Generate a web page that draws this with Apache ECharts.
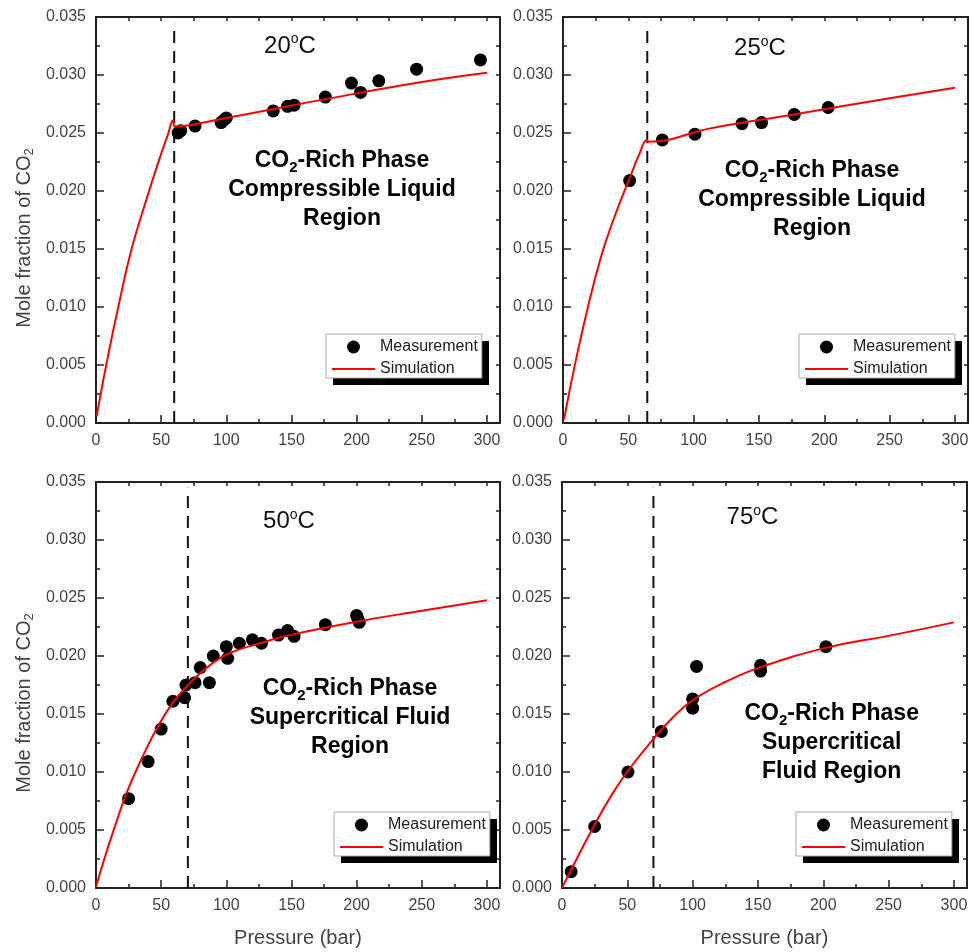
<!DOCTYPE html>
<html>
<head>
<meta charset="utf-8">
<script src="https://cdn.jsdelivr.net/npm/echarts@6/dist/echarts.min.js"></script>
<style>
  html, body { margin: 0; padding: 0; background: #fff; }
  #chart { width: 972px; height: 952px; }
</style>
</head>
<body>
<div id="chart"></div>
<script>
// ---- Data: CO2 mole fraction in the CO2-rich phase vs pressure ----
const temperatures = ['20', '25', '50', '75'];

const meas20 = [[63, 0.0250], [65, 0.0252], [76, 0.0256], [96, 0.0259], [98, 0.0261], [100, 0.0263],
  [136, 0.0269], [147, 0.0273], [152, 0.0274], [176, 0.0281], [196, 0.0293], [203, 0.0285],
  [217, 0.0295], [246, 0.0305], [295, 0.0313]];
const sim20 = [[0.5, 0.0006], [5.6, 0.0037], [10.7, 0.0066], [17.1, 0.0100], [27.3, 0.0150],
  [38.8, 0.0193], [47.6, 0.0224], [55.3, 0.0249], [59.1, 0.0261], [60.5, 0.02555],
  [100, 0.0263], [175, 0.0279], [250, 0.0294], [300, 0.0302]];

const meas25 = [[51, 0.0209], [76, 0.0244], [101, 0.0249], [137, 0.0258], [152, 0.0259],
  [177, 0.0266], [203, 0.0272]];
const sim25 = [[0.8, 0.0003], [8.9, 0.0049], [19.1, 0.0100], [29.3, 0.0144], [39.5, 0.0178],
  [49.9, 0.0208], [58.9, 0.0233], [64, 0.0244], [65.5, 0.02425], [112.8, 0.0254],
  [176.6, 0.0266], [250, 0.0280], [300, 0.0289]];

const meas50 = [[25, 0.0077], [40, 0.0109], [50, 0.0137], [59, 0.0161], [68, 0.0164], [69, 0.0175],
  [76, 0.0177], [80, 0.0190], [87, 0.0177], [90, 0.0200], [100, 0.0208], [101, 0.0198],
  [110, 0.0211], [120, 0.0214], [127, 0.0211], [140, 0.0218], [147, 0.0222], [152, 0.0217],
  [176, 0.0227], [200, 0.0235], [201, 0.0232], [202, 0.0229]];
const sim50 = [[0, 0.0001], [6.9, 0.0027], [14.5, 0.0053], [23.5, 0.0082], [33.6, 0.0108],
  [46.4, 0.0137], [59.1, 0.0160], [73.2, 0.0178], [88.4, 0.0193], [103.7, 0.0203],
  [129.2, 0.0212], [148.3, 0.0218], [201.8, 0.0230], [250.2, 0.0239], [300, 0.0248]];

const meas75 = [[7, 0.0014], [25, 0.0053], [50.5, 0.0100], [76, 0.0135], [100, 0.0163],
  [100, 0.0155], [103, 0.0191], [152, 0.0192], [152, 0.0187], [202, 0.0208]];
const sim75 = [[0, 0], [8.5, 0.0019], [23.7, 0.0052], [39, 0.0082], [51.8, 0.0103],
  [69.6, 0.0128], [84.8, 0.0147], [100.1, 0.0162], [125.6, 0.0178], [151, 0.0190],
  [201.9, 0.0207], [252.7, 0.0218], [300, 0.0229]];

// Phase boundary pressure (dashed vertical line) for each temperature
const phaseBoundary = [60, 64.5, 70.5, 70];
const boundaryTop = 0.0345;

const regionLines = [
  ['CO2-Rich Phase', 'Compressible Liquid', 'Region'],
  ['CO2-Rich Phase', 'Compressible Liquid', 'Region'],
  ['CO2-Rich Phase', 'Supercritical Fluid', 'Region'],
  ['CO2-Rich Phase', 'Supercritical', 'Fluid Region']
];

const pressureTicks = [0, 50, 100, 150, 200, 250, 300];
const pressureMinorTicks = [25, 75, 125, 175, 225, 275];
const pressureTopTicks = [25, 50, 75, 100, 125, 150, 175, 200, 225, 250, 275, 300];

const measurements = [meas20, meas25, meas50, meas75];
const simulations = [sim20, sim25, sim50, sim75];

// ---- Layout ----
const FONT = 'Liberation Sans, Arial, Helvetica, sans-serif';
const panels = [
  { left: 96,  top: 17,  width: 404, title: [290, 46],      region: [342, 189.5],   legend: [326, 334], yName: true,  xName: false },
  { left: 563, top: 17,  width: 405, title: [760, 48.7],    region: [812, 199.5],   legend: [799, 334], yName: false, xName: false },
  { left: 96,  top: 482, width: 404, title: [289, 521.7],   region: [350, 717.7],   legend: [334, 812], yName: true,  xName: true },
  { left: 562, top: 482, width: 405, title: [752.5, 517.5], region: [831.7, 742.7], legend: [796, 812], yName: false, xName: true }
];
const PLOT_H = 406;
const LEGEND_W = 156, LEGEND_H = 44, SHADOW = 7;
const AXIS_COLOR = '#222';
const LABEL_COLOR = '#444';

const grids = [], xAxes = [], yAxes = [], series = [], legends = [], graphics = [];

panels.forEach((p, i) => {
  grids.push({ left: p.left, top: p.top, width: p.width, height: PLOT_H, containLabel: false, outerBoundsMode: 'none' });

  const axisLine = { show: true, onZero: false, lineStyle: { color: AXIS_COLOR, width: 2 } };
  const tickLine = { color: AXIS_COLOR, width: 1.5 };

  // bottom axis: major ticks and labels
  xAxes.push({
    gridIndex: i, type: 'value', min: 0, max: 310, position: 'bottom',
    axisLine,
    axisTick: { show: true, inside: true, length: 8, lineStyle: tickLine, customValues: pressureTicks },
    axisLabel: { customValues: pressureTicks, fontSize: 16, color: LABEL_COLOR, margin: 10, fontFamily: FONT },
    splitLine: { show: false },
    name: p.xName ? 'Pressure (bar)' : '',
    nameLocation: 'middle', nameGap: 40,
    nameTextStyle: { fontSize: 20, color: LABEL_COLOR, fontFamily: FONT }
  });
  // bottom axis: minor ticks
  xAxes.push({
    gridIndex: i, type: 'value', min: 0, max: 310, position: 'bottom',
    axisLine: { show: false, onZero: false },
    axisTick: { show: true, inside: true, length: 4, lineStyle: tickLine, customValues: pressureMinorTicks },
    axisLabel: { show: false }, splitLine: { show: false }
  });
  // top frame with short ticks
  xAxes.push({
    gridIndex: i, type: 'value', min: 0, max: 310, position: 'top',
    axisLine,
    axisTick: { show: true, inside: true, length: 4, lineStyle: tickLine, customValues: pressureTopTicks },
    axisLabel: { show: false }, splitLine: { show: false }
  });

  yAxes.push({
    gridIndex: i, type: 'value', min: 0, max: 0.035, interval: 0.005, position: 'left',
    axisLine,
    axisTick: { show: true, inside: true, length: 8, lineStyle: tickLine },
    minorTick: { show: true, splitNumber: 2, length: 4, lineStyle: tickLine },
    axisLabel: { fontSize: 16, color: LABEL_COLOR, margin: 10, fontFamily: FONT, formatter: v => v.toFixed(3) },
    splitLine: { show: false }, minorSplitLine: { show: false },
    name: p.yName ? '{m|Mole fraction of CO}{s|2}' : '',
    nameLocation: 'middle', nameGap: 60,
    nameTextStyle: {
      fontSize: 20, color: LABEL_COLOR, fontFamily: FONT, padding: [0, 36, 0, 0],
      rich: {
        m: { fontSize: 20, lineHeight: 24, color: LABEL_COLOR, fontFamily: FONT },
        s: { fontSize: 13, lineHeight: 13, verticalAlign: 'bottom', color: LABEL_COLOR, fontFamily: FONT }
      }
    }
  });
  yAxes.push({
    gridIndex: i, type: 'value', min: 0, max: 0.035, interval: 0.0025, position: 'right',
    axisLine,
    axisTick: { show: true, inside: true, length: 4, lineStyle: tickLine },
    axisLabel: { show: false }, splitLine: { show: false }
  });

  series.push({
    name: 'Measurement', type: 'scatter', xAxisIndex: 3 * i, yAxisIndex: 2 * i,
    data: measurements[i], symbol: 'circle', symbolSize: 13,
    itemStyle: { color: '#000', opacity: 1 }, z: 3
  });
  series.push({
    name: 'Simulation', type: 'line', xAxisIndex: 3 * i, yAxisIndex: 2 * i,
    data: simulations[i], symbol: 'none', showSymbol: false, smooth: 0.45,
    lineStyle: { color: '#ff0000', width: 2 }, itemStyle: { color: '#ff0000' }, z: 4
  });
  series.push({
    name: 'Phase boundary', type: 'line', xAxisIndex: 3 * i, yAxisIndex: 2 * i,
    data: [[phaseBoundary[i], 0], [phaseBoundary[i], boundaryTop]], symbol: 'none', silent: true,
    lineStyle: { color: '#111', width: 2, type: [12, 8] }, z: 2
  });

  legends.push({
    left: p.legend[0], top: p.legend[1], orient: 'vertical', z: 6,
    itemWidth: 43, itemHeight: 13, itemGap: 6, padding: [5, 4, 1, 6],
    backgroundColor: '#fff', borderColor: '#aaa', borderWidth: 1, borderRadius: 0,
    selectedMode: false,
    textStyle: { fontSize: 16, color: '#222', fontFamily: FONT },
    data: [
      { name: 'Measurement', icon: 'circle', itemStyle: { color: '#000', opacity: 1 } },
      { name: 'Simulation', icon: 'path://M0,0h43v2h-43z', itemStyle: { color: '#ff0000', borderWidth: 0 }, lineStyle: { width: 0 } }
    ]
  });

  // solid drop shadow behind the legend box
  graphics.push({
    type: 'rect', z: 1, silent: true,
    shape: { x: p.legend[0] + SHADOW, y: p.legend[1] + SHADOW, width: LEGEND_W, height: LEGEND_H },
    style: { fill: '#000' }
  });

  // temperature label
  graphics.push({
    type: 'text', x: p.title[0], y: p.title[1], z: 10,
    style: {
      text: '{t|' + temperatures[i] + '}{o|o}{t|C}',
      align: 'center', verticalAlign: 'middle', textAlign: 'center', textVerticalAlign: 'middle',
      rich: {
        t: { fontSize: 24, lineHeight: 27, fill: '#111', fontFamily: FONT },
        o: { fontSize: 14, lineHeight: 14, verticalAlign: 'top', fill: '#111', fontFamily: FONT }
      }
    }
  });

  // region annotation
  const richLine = s => s.startsWith('CO2')
    ? '{b|CO}{s|2}{b|' + s.slice(3) + '}'
    : '{b|' + s + '}';
  graphics.push({
    type: 'text', x: p.region[0], y: p.region[1], z: 10,
    style: {
      text: regionLines[i].map(richLine).join('\n'),
      align: 'center', verticalAlign: 'middle', textAlign: 'center', textVerticalAlign: 'middle',
      rich: {
        b: { fontSize: 23, fontWeight: 'bold', lineHeight: 29, fill: '#000', fontFamily: FONT },
        s: { fontSize: 15, fontWeight: 'bold', lineHeight: 22, verticalAlign: 'bottom', fill: '#000', fontFamily: FONT }
      }
    }
  });
});

const chart = echarts.init(document.getElementById('chart'), null, { renderer: 'canvas' });
chart.setOption({
  animation: false,
  backgroundColor: '#fff',
  textStyle: { fontFamily: FONT },
  grid: grids,
  xAxis: xAxes,
  yAxis: yAxes,
  legend: legends,
  series: series,
  graphic: graphics
});
</script>
</body>
</html>
